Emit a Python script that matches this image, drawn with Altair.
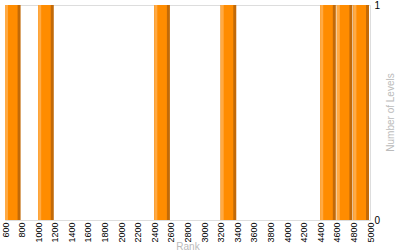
import altair as alt
import pandas as pd

bin_start = [600, 1000, 2400, 3200, 4400, 4600, 4800]
bin_end = [800, 1200, 2600, 3400, 4600, 4800, 5000]
levels = [1, 1, 1, 1, 1, 1, 1]
x_ticks = list(range(600, 5001, 200))

df = pd.DataFrame({"start": bin_start, "end": bin_end, "levels": levels, "zero": [0] * len(levels)})

FONT = "Liberation Sans"

xenc = alt.X(
    "start:Q",
    scale=alt.Scale(domain=[600, 5000], nice=False, zero=False),
    axis=alt.Axis(
        title="Rank",
        values=x_ticks,
        format="d",
        labelAngle=270,
        labelFontSize=9,
        labelColor="#000000",
        labelFont=FONT,
        labelPadding=2,
        ticks=False,
        domain=False,
        grid=False,
        labelOverlap=False,
        labelFlush=False,
        titleColor="#BBBBBB",
        titleFont=FONT,
        titleFontSize=10,
        titleFontWeight="normal",
        titleY=29,
        titleBaseline="alphabetic",
    ),
)
yenc = alt.Y(
    "levels:Q",
    scale=alt.Scale(domain=[0, 1], nice=False),
    axis=alt.Axis(
        orient="right",
        title="Number of Levels",
        values=[0, 1],
        format="d",
        ticks=False,
        domain=False,
        grid=False,
        labelColor="#000000",
        labelFont=FONT,
        labelFontSize=10,
        labelPadding=4,
        labelFlush=False,
        titleColor="#BBBBBB",
        titleFont=FONT,
        titleFontSize=10,
        titleFontWeight="normal",
        titleAngle=270,
        titleX=20,
        titleY=107,
        titleBaseline="middle",
        titleAlign="center",
    ),
)

base = alt.Chart(df)

dark = base.mark_bar(color="#C26A08", x2Offset=-1, opacity=1).encode(
    x=xenc, x2="end:Q", y=yenc, y2="zero:Q"
)
mid = base.mark_bar(color="#FF8C00", x2Offset=-4, opacity=1).encode(
    x=xenc, x2="end:Q", y=yenc, y2="zero:Q"
)
light = base.mark_bar(color="#FFAA44", x2Offset=3, opacity=1).encode(
    x=xenc, x2="start:Q", y=yenc, y2="zero:Q"
)

chart = (
    alt.layer(dark, mid, light)
    .properties(
        width=365,
        height=215,
        autosize=alt.AutoSizeParams(type="none"),
        padding={"left": 5, "top": 5, "right": 30, "bottom": 30},
    )
    .configure_view(stroke="#C8C8C8", strokeWidth=1)
    .configure(background="#FFFFFF")
)

chart.save("out.html", embed_options={"renderer": "svg", "actions": False})
